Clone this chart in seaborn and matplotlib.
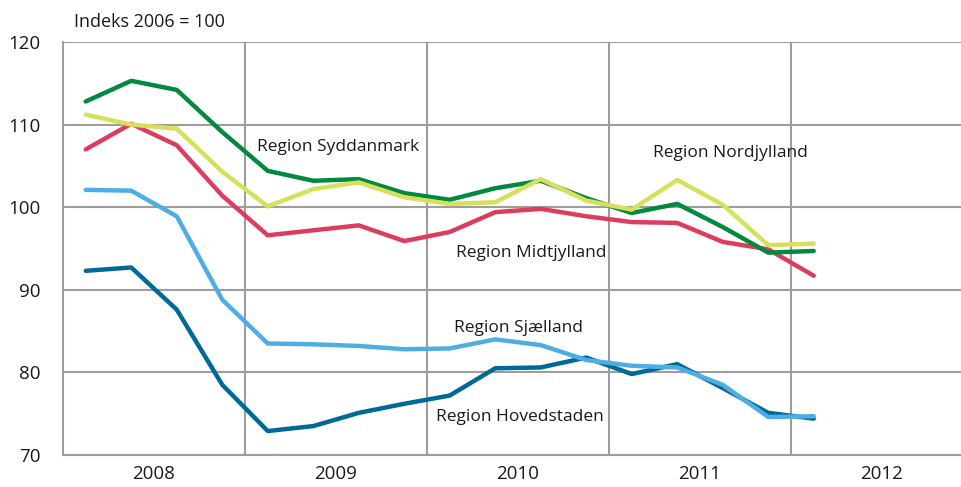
import matplotlib
matplotlib.use("Agg")
import matplotlib.pyplot as plt
import seaborn as sns
import pandas as pd
import numpy as np

quarters = list(range(17))  # 2008Q1 .. 2012Q1
years = ["2008", "2009", "2010", "2011", "2012"]

hovedstaden = [92.3, 92.7, 87.6, 78.5, 72.9, 73.5, 75.1, 76.2, 77.2, 80.5, 80.6, 81.8, 79.8, 81.0, 78.1, 75.1, 74.4]
sjaelland = [102.1, 102.0, 98.9, 88.8, 83.5, 83.4, 83.2, 82.8, 82.9, 84.0, 83.3, 81.5, 80.8, 80.6, 78.5, 74.6, 74.7]
midtjylland = [107.0, 110.1, 107.5, 101.4, 96.6, 97.2, 97.8, 95.9, 97.0, 99.4, 99.8, 98.9, 98.2, 98.1, 95.8, 94.9, 91.7]
syddanmark = [112.8, 115.3, 114.2, 109.1, 104.4, 103.2, 103.4, 101.7, 100.9, 102.3, 103.2, 101.1, 99.3, 100.4, 97.6, 94.5, 94.7]
nordjylland = [111.2, 110.0, 109.5, 104.3, 100.1, 102.2, 103.0, 101.2, 100.4, 100.6, 103.4, 100.8, 99.7, 103.3, 100.3, 95.4, 95.6]

names = ["Region Hovedstaden", "Region Sjælland", "Region Midtjylland",
         "Region Syddanmark", "Region Nordjylland"]
series = [hovedstaden, sjaelland, midtjylland, syddanmark, nordjylland]
colors = ["#006a97", "#4eaee3", "#dc3d5e", "#00893f", "#d7e05c"]

rows = []
for n, s in zip(names, series):
    for q, v in zip(quarters, s):
        rows.append({"q": q, "v": v, "region": n})
df = pd.DataFrame(rows)

sns.set_theme(style="white")
plt.rcParams["font.family"] = ["Open Sans", "DejaVu Sans"]

fig = plt.figure(figsize=(9.61, 4.87), dpi=100)
ax = fig.add_axes([63 / 961, 1 - 455 / 487, 1 - 63 / 961, (455 - 42) / 487])

sns.lineplot(data=df, x="q", y="v", hue="region", hue_order=names,
             palette=dict(zip(names, colors)), linewidth=3.2, legend=False,
             ax=ax, solid_capstyle="round", solid_joinstyle="round")

ax.set_xlim(-0.5, (961 - 63) / 45.5 - 0.5)
ax.set_ylim(70, 120)
ax.set_yticks([70, 80, 90, 100, 110, 120])
ax.set_xticks([1.5, 5.5, 9.5, 13.5, 17.5])
ax.set_xticklabels(years)
ax.set_xticks([3.5, 7.5, 11.5, 15.5], minor=True)
ax.grid(False)
ax.yaxis.grid(True, color="#9d9d9d", linewidth=1.5)
ax.xaxis.grid(True, which="minor", color="#9d9d9d", linewidth=1.5)
ax.set_axisbelow(True)
ax.set_xlabel("")
ax.set_ylabel("")
for side in ["top", "right"]:
    ax.spines[side].set_visible(False)
for side in ["left", "bottom"]:
    ax.spines[side].set_color("#9d9d9d")
    ax.spines[side].set_linewidth(1.5)
ax.tick_params(axis="both", which="both", length=0, labelsize=13.5, colors="#1a1a1a")
ax.tick_params(axis="y", pad=16)
ax.tick_params(axis="x", pad=7)

txt = dict(fontsize=12.5, color="#1a1a1a", ha="center", va="center")
ax.text(5.55, 107.3, "Region Syddanmark", **txt)
ax.text(14.16, 106.6, "Region Nordjylland", **txt)
ax.text(9.8, 94.5, "Region Midtjylland", **txt)
ax.text(9.5, 85.4, "Region Sjælland", **txt)
ax.text(9.55, 74.6, "Region Hovedstaden", **txt)

fig.text(74 / 961, 1 - 22 / 487, "Indeks 2006 = 100", fontsize=13, color="#1a1a1a",
         ha="left", va="center")

fig.savefig("out.png", dpi=100)
